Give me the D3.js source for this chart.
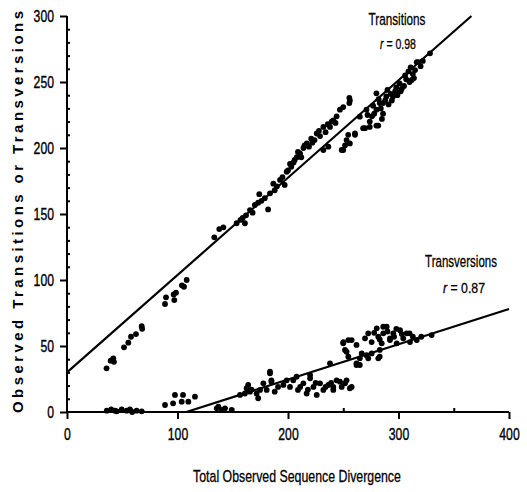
<!DOCTYPE html>
<html><head><meta charset="utf-8">
<script src="https://cdn.jsdelivr.net/npm/d3@7"></script>
<style>
body{margin:0;background:#fff;}
svg{display:block;}
text{font-family:"Liberation Sans",Arial,sans-serif;}
</style></head>
<body><svg id="chart" width="527" height="492"></svg>
<script>
// ---- data ----
const transitions = [
[35.8,33.1],[39.5,38.9],[41.9,40.7],[42.5,38],[51.6,49],[55.5,52.5],[57.9,57],[62.4,59],[67.6,65],[68,63],
[88.7,81.8],[89.6,86.9],[97.1,84.8],[98.6,90.4],[96.5,89],[105.9,94.9],[108.3,100],[104,96],
[133.3,132.3],[137.8,138.6],[141.5,139.9],[153.5,143],[157,145.5],[161,143],[162,149],[165.6,153],[170,156.8],
[173,158.6],[174,165],[179,162],[182,153.5],[183.7,165.7],[186.7,173],[190,171],[192.8,175.8],[197,172],
[198.8,182],[201.8,188],[203,185.8],[206,191],[209,197],[210.9,196],[212,193],[214,200],[217,203.5],[219,201],
[221,207],[224,206],[226,211],[229,209],[232,216],[234,212],[236,218],[238,216],[241,221],[244,224],[247,229],
[250,231],[255.5,238],[255.5,234],[256,236],[239.5,220],
[159,147],[168,151],[176,160],[188,168],[195,178],[200,183],[205,189],[208,193],[215,202],[222,204],[228,213],[243,219],
[232,198.5],[236.5,201],[248.6,198.5],[250,198.5],[251.6,202],[253,206],[254.5,210],[256,203.5],[260.6,211],[260.6,210],
[265,223.7],[268,215],[269.7,215],[271,229],[274,216],[274,220],[276,224],[278,226],[280,217],[280,229],[280,241.4],
[281.7,217],[283,234],[284,230],[286,226],[286,234],[288,236],[289,239],[291,233],[293,241],[295,239],[297,243],
[299,240],[301,249],[303,245],[305,247],[307,252],[309,258],[310,250],[312,251.5],[313,256],[315,259],[316.5,265],
[318,265],[320,262],[328.5,271.7],
[272,225],[277,232],[282,237],[285,222],[290,244],[294,236],[298,246],[302,243],[306,255],[311,261],[314,253],[322,266]
];
const transversions = [
[36,1],[40,2],[43.4,1],[45,0.5],[49.5,2],[54,1],[57,2],[59,0],[63,1],[67.6,0.5],
[88.7,5.3],[96,6.6],[97.7,12.9],[103.8,7.8],[105,12.9],[109.8,7.8],[115.8,11.6],
[135.5,2.8],[137,4],[140,1.5],[143,2.8],[149,1.5],
[156.6,12.9],[161,14],[162.6,18],[164,20.5],[165.6,15.4],[167,17],[171.6,14],[173,10.4],[174.7,16.7],[177.7,21.7],
[180.7,16.7],[183.7,29.3],[183.7,30.5],[185,23],[185,24],[188,15.4],[191,19],[195.8,20.5],[198.8,24],
[201.8,19],[204.8,24],[207.8,26.7],[209,16.7],[213.9,21.7],[216.9,14],[220,25.5],[220,28],[223,19],[226,12.9],
[229,21.7],[232,16.7],[236.5,20.5],[238,36.9],[241,16.7],[241,19],[244,24],[247,23],[248.6,19],[251.6,21.7],
[253,24],[256,18],[257.6,19],
[211,19],[218,17],[225,22],[234,19],[239,22],
[250,53],[251.6,47],[250,52],[254.6,54.5],[257.6,54.5],[262,50.8],[253,45.7],[254.6,41.9],[262,36.9],[262,35.6],
[265,40.7],[265,35.6],[266.7,44.4],[271,43],[272.6,40.7],[275.7,44.4],[281.7,40.7],[283,47],[283,42],[269.7,55.8],
[272.6,59.6],[275.7,53],[280.3,63.4],[281.7,57],[284.8,52],[286.2,59.6],[286.2,64.6],[289.3,64.6],[292.3,55.8],
[292.3,54.5],[295.3,59.6],[298.4,52],[298,63],[301.4,62],[304.3,55.8],[307.4,59.6],[310.4,53],[310,59.6],
[316.5,54.5],[320.6,57],[330,58.3],
[278,60],[283,55],[290,61],[296,57],[303,59],[313,57]
];
const transitionsFit = [[0,30],[366,300]];
const transversionsFit = [[108,0],[400,78]];
const xTicks = [0,100,200,300,400];
const xMinorTicks = [50,150,250,350];
const yTicks = [0,50,100,150,200,250,300];
const yMinorTicks = d3.range(10,300,10).filter(v => v % 50 !== 0);

// ---- chart ----
const svg = d3.select("#chart");
const x = d3.scaleLinear().domain([0,400]).range([67,509]);
const y = d3.scaleLinear().domain([0,300]).range([412,16]);
const SX = 0.72; // horizontal condensing of tick labels

const gx = svg.append("g").attr("transform",`translate(0,${y(0)})`)
  .call(d3.axisBottom(x).tickValues(xTicks).tickSize(7).tickPadding(9).tickFormat(d3.format("d")));
const gxm = svg.append("g").attr("transform",`translate(0,${y(0)})`)
  .call(d3.axisBottom(x).tickValues(xMinorTicks).tickSize(-4).tickFormat(""));
const gy = svg.append("g").attr("transform",`translate(${x(0)},0)`)
  .call(d3.axisLeft(y).tickValues(yTicks).tickSize(7).tickPadding(5).tickFormat(d3.format("d")));
const gym = svg.append("g").attr("transform",`translate(${x(0)},0)`)
  .call(d3.axisLeft(y).tickValues(yMinorTicks).tickSize(-3).tickFormat(""));
[gx,gxm,gy,gym].forEach(g=>{
  g.selectAll(".domain").attr("stroke","#000").attr("stroke-width",2);
  g.selectAll(".tick line").attr("stroke","#000").attr("stroke-width",2);
  g.selectAll("text").attr("font-size",17).attr("fill","#000").attr("font-family","'Liberation Sans',Arial,sans-serif")
    .attr("stroke","#000").attr("stroke-width",0.4);
});
gxm.select(".domain").remove();
gym.select(".domain").remove();
gx.selectAll(".domain").attr("d",`M${x(0)},0H${x(400)}`);
gy.selectAll(".domain").attr("d",`M0,${y(300)}V${y(0)}`);
gx.selectAll(".tick text").attr("transform",`scale(${SX},1)`);
gy.selectAll(".tick text").attr("transform",`scale(${SX},1)`).attr("x",-13/SX);

const line = d3.line().x(d=>x(d[0])).y(d=>y(d[1]));
[transitionsFit, transversionsFit].forEach(f=>{
  svg.append("path").attr("d",line(f)).attr("fill","none").attr("stroke","#000").attr("stroke-width",2.2);
});

[transitions, transversions].forEach(series=>{
  svg.append("g").selectAll("circle").data(series).join("circle")
    .attr("cx",d=>x(d[0])).attr("cy",d=>y(d[1])).attr("r",2.9).attr("fill","#000");
});

// condensed label: centred at cx, baseline by, squeezed to the given width
function label(txt, cx, by, size, width, italicFirst){
  const t = svg.append("text").attr("y",by).attr("font-size",size).attr("text-anchor","middle")
    .attr("stroke","#000").attr("stroke-width",0.3);
  if(italicFirst){
    t.append("tspan").attr("font-style","italic").text(txt[0]);
    t.append("tspan").text(txt.slice(1));
  } else t.text(txt);
  const natural = t.node().getComputedTextLength();
  const s = width / natural;
  t.attr("x", cx / s).attr("transform", `scale(${s},1)`);
  return t;
}
label("Transitions", 397, 25, 17, 57, false);
label("r = 0.98", 398, 49, 15, 36, true);
label("Transversions", 461, 267, 17, 72, false);
label("r  =  0.87", 464, 293, 15, 42, true);
label("Total Observed Sequence Divergence", 297, 482, 17, 208, false);

svg.append("text").attr("transform","translate(23,212) rotate(-90)").attr("text-anchor","middle")
  .attr("font-weight","bold").attr("font-size",15)
  .attr("textLength",402).attr("lengthAdjust","spacing")
  .text("Observed Transitions or Transversions");
</script></body></html>
